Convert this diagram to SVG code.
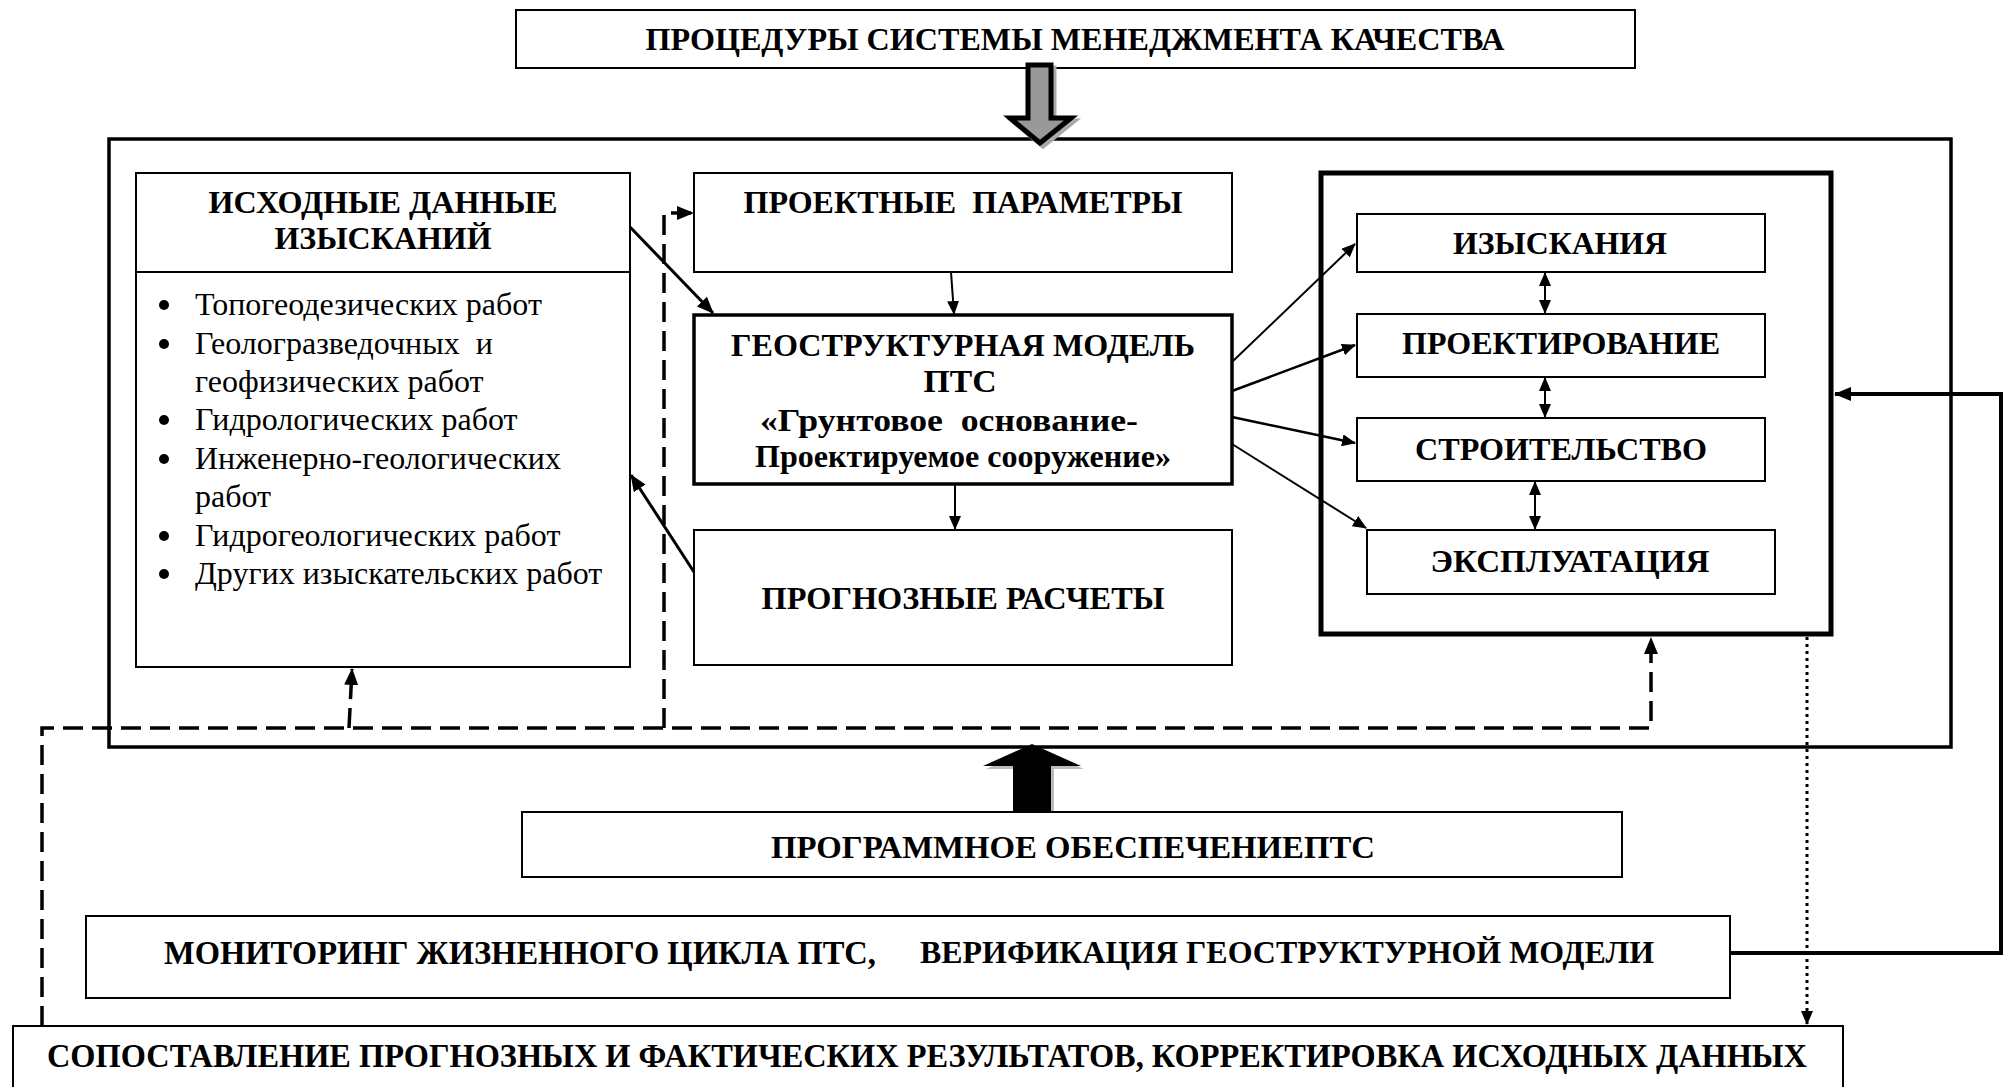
<svg xmlns="http://www.w3.org/2000/svg" width="2011" height="1087" viewBox="0 0 2011 1087">
<style>
.box{fill:#fff;stroke:#000;stroke-width:2}
.t{font-family:"Liberation Serif","Times New Roman",serif;font-weight:bold;font-size:31px;fill:#000;text-anchor:middle}
.b{font-family:"Liberation Serif","Times New Roman",serif;font-size:32px;fill:#000}
.ln{fill:none;stroke:#000}
.dash{fill:none;stroke:#000;stroke-width:3.5;stroke-dasharray:20 9}
</style>
<defs>
<marker id="ah" markerUnits="userSpaceOnUse" markerWidth="18" markerHeight="14" refX="16" refY="7" orient="auto-start-reverse">
<path d="M0,0 L17,7 L0,14 z" fill="#000"/>
</marker>
<marker id="ahs" markerUnits="userSpaceOnUse" markerWidth="14" markerHeight="12" refX="13" refY="6" orient="auto-start-reverse">
<path d="M0,0 L14,6 L0,12 z" fill="#000"/>
</marker>
</defs>
<rect width="2011" height="1087" fill="#fff"/>

<g id="frame">
<rect x="109" y="139" width="1842" height="608" fill="none" stroke="#000" stroke-width="3.5"/>
</g>

<g id="qms">
<rect class="box" x="516" y="10" width="1119" height="58"/>
<text class="t" x="1075" y="50" textLength="859" lengthAdjust="spacingAndGlyphs">ПРОЦЕДУРЫ СИСТЕМЫ МЕНЕДЖМЕНТА КАЧЕСТВА</text>
</g>

<g id="arrow-down">
<polygon points="1031,68 1054,68 1054,121 1074,121 1043,146 1013,121 1031,121" fill="#aaa" stroke="#aaa" stroke-width="5" stroke-linejoin="miter"/>
<polygon points="1028,65 1051,65 1051,118 1071,118 1040,143 1010,118 1028,118" fill="#999" stroke="#000" stroke-width="5" stroke-linejoin="miter"/>
</g>

<g id="initial-data">
<rect class="box" x="136" y="173" width="494" height="494"/>
<line x1="136" y1="272" x2="630" y2="272" stroke="#000" stroke-width="2"/>
<text class="t" x="383" y="213" textLength="349" lengthAdjust="spacingAndGlyphs">ИСХОДНЫЕ ДАННЫЕ</text>
<text class="t" x="383" y="249" textLength="217" lengthAdjust="spacingAndGlyphs">ИЗЫСКАНИЙ</text>
<g fill="#000">
<circle cx="164" cy="305" r="5"/>
<circle cx="164" cy="344" r="5"/>
<circle cx="164" cy="420" r="5"/>
<circle cx="164" cy="459" r="5"/>
<circle cx="164" cy="536" r="5"/>
<circle cx="164" cy="574" r="5"/>
</g>
<text class="b" x="195" y="315">Топогеодезических работ</text>
<text class="b" x="195" y="354" xml:space="preserve">Геологразведочных  и</text>
<text class="b" x="195" y="392">геофизических работ</text>
<text class="b" x="195" y="430">Гидрологических работ</text>
<text class="b" x="195" y="469">Инженерно-геологических</text>
<text class="b" x="195" y="507">работ</text>
<text class="b" x="195" y="546">Гидрогеологических работ</text>
<text class="b" x="195" y="584">Других изыскательских работ</text>
</g>

<g id="design-params">
<rect class="box" x="694" y="173" width="538" height="99"/>
<text class="t" x="963" y="213" textLength="439" lengthAdjust="spacingAndGlyphs" xml:space="preserve">ПРОЕКТНЫЕ  ПАРАМЕТРЫ</text>
</g>

<g id="geo-model">
<rect x="694" y="315" width="538" height="169" fill="#fff" stroke="#000" stroke-width="3.5"/>
<text class="t" x="963" y="356" textLength="464" lengthAdjust="spacingAndGlyphs">ГЕОСТРУКТУРНАЯ МОДЕЛЬ</text>
<text class="t" x="960" y="392" textLength="73" lengthAdjust="spacingAndGlyphs">ПТС</text>
<text class="t" x="949" y="431" textLength="378" lengthAdjust="spacingAndGlyphs" xml:space="preserve">«Грунтовое  основание-</text>
<text class="t" x="963" y="467" textLength="416" lengthAdjust="spacingAndGlyphs">Проектируемое сооружение»</text>
</g>

<g id="forecast">
<rect class="box" x="694" y="530" width="538" height="135"/>
<text class="t" x="963" y="609" textLength="403" lengthAdjust="spacingAndGlyphs">ПРОГНОЗНЫЕ РАСЧЕТЫ</text>
</g>

<g id="lifecycle">
<rect x="1321" y="173" width="510" height="461" fill="#fff" stroke="#000" stroke-width="5"/>
</g>
<g id="survey">
<rect class="box" x="1357" y="214" width="408" height="58"/>
<text class="t" x="1560" y="254" textLength="214" lengthAdjust="spacingAndGlyphs">ИЗЫСКАНИЯ</text>
</g>
<g id="design">
<rect class="box" x="1357" y="314" width="408" height="63"/>
<text class="t" x="1561" y="354" textLength="318" lengthAdjust="spacingAndGlyphs">ПРОЕКТИРОВАНИЕ</text>
</g>
<g id="construction">
<rect class="box" x="1357" y="418" width="408" height="63"/>
<text class="t" x="1561" y="460" textLength="292" lengthAdjust="spacingAndGlyphs">СТРОИТЕЛЬСТВО</text>
</g>
<g id="operation">
<rect class="box" x="1367" y="530" width="408" height="64"/>
<text class="t" x="1570" y="572" textLength="279" lengthAdjust="spacingAndGlyphs">ЭКСПЛУАТАЦИЯ</text>
</g>

<g id="arrow-up">
<polygon points="1035,747 1084,769 1054,769 1054,820 1016,820 1016,769 986,769" fill="#bbb"/>
<polygon points="1032,744 1081,766 1051,766 1051,817 1013,817 1013,766 983,766" fill="#000"/>
</g>

<g id="software">
<rect class="box" x="522" y="812" width="1100" height="65"/>
<text class="t" x="1073" y="858" textLength="604" lengthAdjust="spacingAndGlyphs">ПРОГРАММНОЕ ОБЕСПЕЧЕНИЕПТС</text>
</g>

<g id="monitoring">
<rect class="box" x="86" y="916" width="1644" height="82"/>
<text class="t" x="520" y="964" style="font-size:34px" textLength="712" lengthAdjust="spacingAndGlyphs">МОНИТОРИНГ ЖИЗНЕННОГО ЦИКЛА ПТС,</text>
<text class="t" x="1287" y="963" style="font-size:32px" textLength="734" lengthAdjust="spacingAndGlyphs">ВЕРИФИКАЦИЯ ГЕОСТРУКТУРНОЙ МОДЕЛИ</text>
</g>

<g id="comparison">
<rect class="box" x="13" y="1026" width="1830" height="70"/>
<text class="t" x="927" y="1067" style="font-size:33px" textLength="1760" lengthAdjust="spacingAndGlyphs">СОПОСТАВЛЕНИЕ ПРОГНОЗНЫХ И ФАКТИЧЕСКИХ РЕЗУЛЬТАТОВ, КОРРЕКТИРОВКА ИСХОДНЫХ ДАННЫХ</text>
</g>

<g id="connectors">
<line class="ln" x1="630" y1="227" x2="713" y2="313" stroke-width="3" marker-end="url(#ah)"/>
<line class="ln" x1="694" y1="572" x2="631" y2="475" stroke-width="3" marker-end="url(#ah)"/>
<line class="ln" x1="951" y1="272" x2="954" y2="314" stroke-width="2" marker-end="url(#ahs)"/>
<line class="ln" x1="955" y1="484" x2="955" y2="529" stroke-width="2" marker-end="url(#ahs)"/>
<line class="ln" x1="1232" y1="362" x2="1355" y2="244" stroke-width="2" marker-end="url(#ahs)"/>
<line class="ln" x1="1232" y1="391" x2="1355" y2="345" stroke-width="2.5" marker-end="url(#ahs)"/>
<line class="ln" x1="1232" y1="417" x2="1355" y2="443" stroke-width="2.5" marker-end="url(#ahs)"/>
<line class="ln" x1="1232" y1="444" x2="1366" y2="528" stroke-width="2" marker-end="url(#ahs)"/>
<line class="ln" x1="1545" y1="273" x2="1545" y2="313" stroke-width="2" marker-start="url(#ahs)" marker-end="url(#ahs)"/>
<line class="ln" x1="1545" y1="378" x2="1545" y2="417" stroke-width="2" marker-start="url(#ahs)" marker-end="url(#ahs)"/>
<line class="ln" x1="1535" y1="482" x2="1535" y2="529" stroke-width="2" marker-start="url(#ahs)" marker-end="url(#ahs)"/>
<polyline class="ln" points="1730,953 2001,953 2001,394 1835,394" stroke-width="4" marker-end="url(#ah)"/>
<line x1="1807" y1="637" x2="1807" y2="1024" fill="none" stroke="#000" stroke-width="3" stroke-dasharray="3 4" marker-end="url(#ahs)"/>
<path class="dash" d="M42,1026 V728 H1651 V638" marker-end="url(#ah)"/>
<path class="dash" d="M349,728 L352,669" marker-end="url(#ah)"/>
<path class="dash" d="M664,728 V213 H693" marker-end="url(#ah)"/>
</g>
</svg>
